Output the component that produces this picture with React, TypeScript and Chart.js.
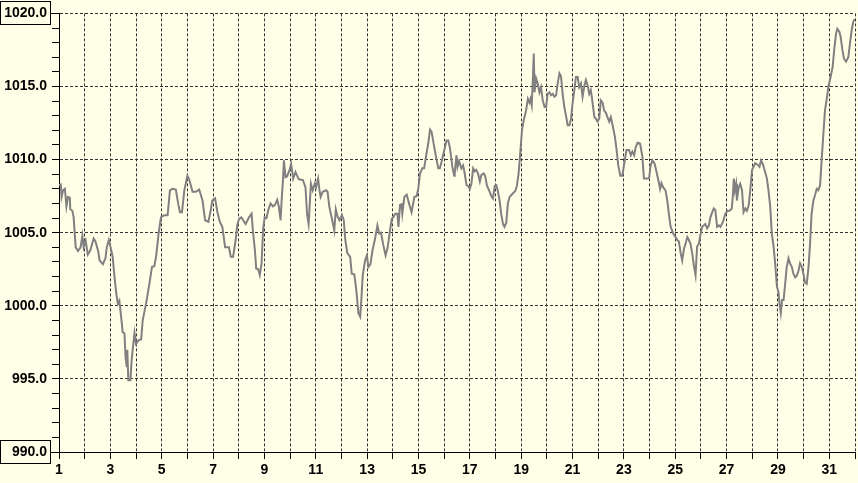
import React, { useEffect, useRef } from "react";
import { Chart, registerables } from "chart.js";

Chart.register(...registerables);

// Day of month (x) and sea-level pressure in hPa (y)
const days = [
  1.00, 1.07, 1.10, 1.16, 1.23, 1.29, 1.35, 1.42, 1.44, 1.52, 1.57, 1.65, 1.74, 1.84, 1.91, 1.96,
  2.04, 2.12, 2.22, 2.35, 2.42, 2.53, 2.58, 2.71, 2.81, 2.86, 2.94, 3.03, 3.09, 3.16, 3.23, 3.29,
  3.35, 3.42, 3.48, 3.55, 3.59, 3.64, 3.66, 3.70, 3.78, 3.83, 3.87, 3.94, 4.00, 4.10, 4.20, 4.26,
  4.39, 4.52, 4.62, 4.71, 4.78, 4.88, 4.97, 5.10, 5.23, 5.32, 5.42, 5.55, 5.65, 5.71, 5.79, 5.88,
  6.00, 6.07, 6.20, 6.33, 6.46, 6.59, 6.69, 6.82, 6.91, 6.97, 7.08, 7.17, 7.26, 7.36, 7.47, 7.62,
  7.69, 7.78, 7.88, 7.94, 8.01, 8.10, 8.27, 8.40, 8.50, 8.55, 8.63, 8.68, 8.76, 8.82, 8.89, 8.95,
  9.01, 9.08, 9.15, 9.24, 9.33, 9.41, 9.50, 9.56, 9.63, 9.67, 9.72, 9.76, 9.82, 9.88, 9.98, 10.04,
  10.12, 10.21, 10.27, 10.34, 10.50, 10.60, 10.66, 10.72, 10.76, 10.81, 10.88, 10.96, 11.01, 11.09,
  11.14, 11.19, 11.27, 11.40, 11.46, 11.53, 11.63, 11.72, 11.78, 11.85, 11.92, 12.02, 12.09, 12.15,
  12.23, 12.34, 12.40, 12.50, 12.58, 12.66, 12.73, 12.77, 12.83, 12.92, 12.99, 13.05, 13.13, 13.21,
  13.31, 13.40, 13.47, 13.54, 13.63, 13.72, 13.80, 13.89, 13.96, 14.02, 14.09, 14.18, 14.22, 14.28,
  14.34, 14.37, 14.45, 14.54, 14.64, 14.73, 14.84, 14.93, 14.99, 15.06, 15.15, 15.22, 15.31, 15.38,
  15.45, 15.51, 15.57, 15.66, 15.77, 15.83, 15.90, 16.03, 16.09, 16.16, 16.22, 16.28, 16.32, 16.39,
  16.41, 16.48, 16.52, 16.58, 16.67, 16.74, 16.80, 16.87, 16.93, 17.00, 17.06, 17.13, 17.19, 17.25,
  17.32, 17.39, 17.45, 17.54, 17.60, 17.67, 17.75, 17.84, 17.90, 17.97, 18.03, 18.09, 18.16, 18.22,
  18.29, 18.35, 18.42, 18.48, 18.55, 18.68, 18.77, 18.83, 18.90, 18.96, 19.03, 19.10, 19.19, 19.26,
  19.32, 19.36, 19.41, 19.45, 19.49, 19.52, 19.58, 19.65, 19.71, 19.77, 19.84, 19.91, 19.97, 20.03,
  20.10, 20.16, 20.23, 20.29, 20.36, 20.42, 20.49, 20.55, 20.62, 20.68, 20.74, 20.81, 20.88, 20.94,
  21.00, 21.07, 21.13, 21.20, 21.26, 21.33, 21.39, 21.46, 21.52, 21.59, 21.65, 21.71, 21.75, 21.85,
  21.91, 21.97, 22.04, 22.10, 22.17, 22.23, 22.30, 22.36, 22.43, 22.49, 22.56, 22.65, 22.71, 22.78,
  22.86, 22.94, 23.01, 23.10, 23.20, 23.27, 23.33, 23.40, 23.46, 23.53, 23.63, 23.72, 23.78, 23.91,
  23.98, 24.04, 24.11, 24.20, 24.27, 24.34, 24.41, 24.46, 24.53, 24.62, 24.69, 24.75, 24.82, 24.92,
  25.01, 25.08, 25.14, 25.21, 25.27, 25.34, 25.40, 25.47, 25.53, 25.59, 25.66, 25.72, 25.79, 25.85,
  25.92, 25.98, 26.05, 26.11, 26.17, 26.24, 26.31, 26.37, 26.44, 26.50, 26.56, 26.63, 26.70, 26.76,
  26.86, 26.95, 27.04, 27.12, 27.20, 27.24, 27.28, 27.32, 27.37, 27.40, 27.47, 27.53, 27.60, 27.66,
  27.73, 27.79, 27.86, 27.92, 27.99, 28.05, 28.11, 28.21, 28.28, 28.34, 28.41, 28.50, 28.57, 28.63,
  28.70, 28.76, 28.83, 28.89, 28.96, 29.02, 29.06, 29.11, 29.16, 29.22, 29.28, 29.34, 29.41, 29.47,
  29.54, 29.60, 29.67, 29.73, 29.80, 29.86, 29.93, 29.99, 30.05, 30.12, 30.19, 30.25, 30.31, 30.38,
  30.44, 30.51, 30.57, 30.64, 30.70, 30.77, 30.83, 30.90, 30.96, 31.05, 31.13, 31.19, 31.26, 31.31,
  31.39, 31.44, 31.51, 31.57, 31.65, 31.74, 31.80, 31.87, 31.93, 31.98,
];

const pressure = [
  1008.25, 1008.3, 1007.45, 1007.9, 1008.0, 1006.8, 1007.45, 1007.4, 1006.6, 1006.5, 1006.05, 1004.0, 1003.75, 1004.0, 1004.8, 1004.0,
  1004.45, 1003.5, 1003.8, 1004.6, 1004.4, 1003.7, 1003.1, 1002.85, 1003.25, 1004.0, 1004.5, 1003.85, 1003.35, 1002.0, 1000.85, 1000.15,
  1000.35, 999.25, 998.2, 998.1, 996.5, 995.8, 997.0, 994.9, 994.9, 996.3, 997.0, 998.15, 997.4, 997.65, 997.7, 999.0,
  1000.15, 1001.5, 1002.65, 1002.7, 1003.35, 1004.95, 1006.05, 1006.2, 1006.2, 1007.9, 1008.0, 1007.95, 1006.9, 1006.4, 1006.4, 1007.9,
  1008.9, 1008.65, 1007.8, 1007.8, 1007.95, 1007.2, 1005.85, 1005.75, 1006.55, 1007.2, 1007.35, 1006.4, 1005.75, 1005.4, 1004.0, 1004.0,
  1003.35, 1003.35, 1004.5, 1005.5, 1005.95, 1006.05, 1005.6, 1006.05, 1006.3, 1005.15, 1003.8, 1002.55, 1002.5, 1002.1, 1002.9, 1005.3,
  1006.05, 1006.0, 1006.55, 1007.0, 1006.8, 1006.9, 1007.25, 1006.8, 1005.85, 1007.2, 1008.5, 1009.95, 1008.8, 1008.85, 1009.3, 1009.7,
  1008.7, 1009.15, 1008.9, 1008.65, 1008.6, 1008.1, 1006.3, 1005.6, 1006.75, 1008.35, 1007.9, 1008.35, 1008.1, 1008.7,
  1007.95, 1007.45, 1007.8, 1007.9, 1007.8, 1006.75, 1005.95, 1005.15, 1006.6, 1006.1, 1005.85, 1006.2, 1005.85, 1004.5,
  1003.6, 1003.35, 1002.2, 1002.15, 1001.05, 999.5, 999.25, 1000.3, 1002.1, 1003.1, 1003.45, 1002.65, 1002.85, 1003.8,
  1004.6, 1005.5, 1004.95, 1005.0, 1004.15, 1003.45, 1004.0, 1005.15, 1005.95, 1006.05, 1006.3, 1006.3, 1005.4, 1006.9,
  1006.95, 1006.3, 1007.45, 1007.6, 1006.95, 1006.4, 1007.45, 1007.5, 1008.0, 1009.05, 1009.4, 1009.4, 1010.4, 1011.1,
  1012.05, 1011.9, 1011.3, 1010.4, 1009.4, 1009.4, 1009.85, 1010.85, 1011.3, 1011.3, 1010.85, 1010.05, 1009.5, 1008.9,
  1009.05, 1010.3, 1009.5, 1009.9, 1009.4, 1009.6, 1009.05, 1008.25, 1008.2, 1008.0, 1008.35, 1009.4, 1009.2, 1009.3,
  1009.05, 1008.5, 1008.95, 1009.05, 1008.85, 1008.2, 1007.9, 1007.5, 1007.35, 1008.2, 1008.25, 1007.85, 1007.2, 1006.3,
  1005.6, 1005.4, 1005.7, 1007.0, 1007.45, 1007.7, 1007.85, 1008.2, 1009.05, 1010.4, 1012.0, 1012.7, 1013.35, 1014.15,
  1013.9, 1014.15, 1013.7, 1015.3, 1017.25, 1014.6, 1015.55, 1015.15, 1014.6, 1014.95, 1014.05, 1013.6, 1013.6, 1014.5,
  1014.6, 1014.4, 1014.5, 1014.3, 1014.4, 1015.2, 1015.9, 1015.7, 1014.4, 1013.6, 1013.05, 1012.35, 1012.35, 1012.8,
  1013.85, 1014.75, 1015.65, 1015.65, 1014.95, 1015.2, 1014.3, 1015.05, 1015.45, 1015.05, 1014.5, 1014.75, 1014.3, 1012.9,
  1012.8, 1012.6, 1012.8, 1014.05, 1013.9, 1013.35, 1013.2, 1012.9, 1012.6, 1012.9, 1012.35, 1011.55, 1010.75, 1009.6,
  1008.9, 1008.9, 1009.7, 1010.65, 1010.65, 1010.3, 1010.55, 1010.3, 1010.85, 1011.15, 1011.1, 1010.2, 1008.7, 1008.7,
  1008.7, 1009.6, 1009.95, 1009.7, 1009.15, 1008.6, 1008.0, 1008.4, 1008.1, 1007.9, 1007.2, 1006.3, 1005.4, 1004.95,
  1004.7, 1004.5, 1004.4, 1003.6, 1003.1, 1003.9, 1004.25, 1004.7, 1004.5, 1004.25, 1003.6, 1002.8, 1002.1, 1004.05,
  1004.25, 1004.85, 1005.4, 1005.5, 1005.6, 1005.3, 1005.5, 1006.05, 1006.4, 1006.65, 1006.55, 1005.4, 1005.5, 1005.4,
  1005.75, 1006.3, 1006.5, 1006.5, 1006.65, 1007.45, 1008.7, 1007.9, 1008.35, 1007.2, 1008.1, 1008.35, 1007.9, 1006.4,
  1006.65, 1006.5, 1006.85, 1007.9, 1009.3, 1009.5, 1009.75, 1009.65, 1009.5, 1009.95, 1009.7, 1009.15, 1008.7, 1007.9,
  1006.75, 1004.95, 1004.05, 1002.9, 1001.3, 1000.95, 1000.15, 999.5, 1000.4, 1000.4, 1001.5, 1002.65, 1003.25, 1002.9,
  1002.65, 1002.2, 1001.95, 1002.05, 1002.4, 1002.9, 1002.65, 1002.2, 1001.6, 1001.5, 1002.65, 1004.25, 1006.3, 1007.2,
  1007.55, 1008.0, 1007.9, 1008.25, 1009.95, 1011.8, 1013.35, 1014.15, 1014.95, 1015.65, 1016.35, 1017.5, 1018.6, 1018.95,
  1018.75, 1018.4, 1017.5, 1016.9, 1016.7, 1017.0, 1017.9, 1018.85, 1019.4, 1019.6,
];

// Axis labels
const xLabelDays = [1, 3, 5, 7, 9, 11, 13, 15, 17, 19, 21, 23, 25, 27, 29, 31];
const yLabelValues = [990, 995, 1000, 1005, 1010, 1015, 1020];
const boxedYLabels = [990, 1020];

const BG = "#FFFFE8";
const FONT_FAMILY = '"Liberation Sans", Arial, sans-serif';

export default function App() {
  const canvasRef = useRef<HTMLCanvasElement | null>(null);

  useEffect(() => {
    document.body.style.margin = "0";
    document.body.style.background = BG;
    const canvas = canvasRef.current;
    if (!canvas) return;

    const bgPlugin = {
      id: "bgPlugin",
      beforeDraw(chart: any) {
        const ctx = chart.ctx;
        ctx.save();
        ctx.fillStyle = BG;
        ctx.fillRect(0, 0, chart.width, chart.height);
        ctx.restore();
      },
      afterDraw(chart: any) {
        const ctx = chart.ctx;
        const yScale = chart.scales.y;
        const left = chart.chartArea.left;
        ctx.save();
        ctx.strokeStyle = "#000";
        ctx.lineWidth = 1;
        boxedYLabels.forEach((v) => {
          const py = Math.round(yScale.getPixelForValue(v));
          const top = Math.max(0, py - 12);
          const bottom = py + 11;
          ctx.strokeRect(0.5, top + 0.5, 50, bottom - top);
          ctx.beginPath();
          ctx.moveTo(50.5, py + 0.5);
          ctx.lineTo(left, py + 0.5);
          ctx.stroke();
        });
        ctx.restore();
      },
    };

    const chart = new Chart(canvas, {
      type: "line",
      data: {
        datasets: [
          {
            data: days.map((d, i) => ({ x: d, y: pressure[i] })),
            borderColor: "#808080",
            borderWidth: 2,
            pointRadius: 0,
            tension: 0,
            fill: false,
          },
        ],
      },
      options: {
        responsive: false,
        animation: false,
        events: [],
        layout: { padding: { top: 13, left: 0, right: 0, bottom: 0 } },
        plugins: {
          legend: { display: false },
          tooltip: { enabled: false },
          title: { display: false },
        },
        scales: {
          x: {
            type: "linear",
            min: 1,
            max: 32,
            afterFit: (scale: any) => {
              scale.height = 31;
            },
            ticks: {
              stepSize: 1,
              autoSkip: false,
              maxRotation: 0,
              padding: 3,
              color: "#000",
              font: { family: FONT_FAMILY, size: 14, weight: "bold" },
              callback: (v: any) => (xLabelDays.includes(Number(v)) ? String(v) : ""),
            },
            grid: {
              color: "#333",
              lineWidth: 1,
              tickColor: "#000",
              tickLength: 7,
              tickBorderDash: [],
            },
            border: { display: true, color: "#000", width: 1, dash: [3, 2] },
          },
          y: {
            type: "linear",
            min: 990,
            max: 1020,
            afterFit: (scale: any) => {
              scale.width = 59;
            },
            ticks: {
              stepSize: 1,
              autoSkip: false,
              padding: 5,
              color: "#000",
              font: { family: FONT_FAMILY, size: 14, weight: "bold" },
              callback: (v: any) =>
                yLabelValues.includes(Number(v)) ? Number(v).toFixed(1) : "",
            },
            grid: {
              color: (ctx: any) =>
                ctx.tick && yLabelValues.includes(ctx.tick.value) ? "#333" : "rgba(0,0,0,0)",
              lineWidth: 1,
              tickColor: "#000",
              tickLength: 7,
              tickBorderDash: [],
            },
            border: { display: true, color: "#000", width: 1, dash: [3, 2] },
          },
        },
      },
      plugins: [bgPlugin],
    } as any);

    return () => {
      chart.destroy();
    };
  }, []);

  return (
    <div style={{ position: "fixed", left: 0, top: 0, width: 858, height: 483, background: BG }}>
      <canvas ref={canvasRef} width={858} height={483} />
    </div>
  );
}
